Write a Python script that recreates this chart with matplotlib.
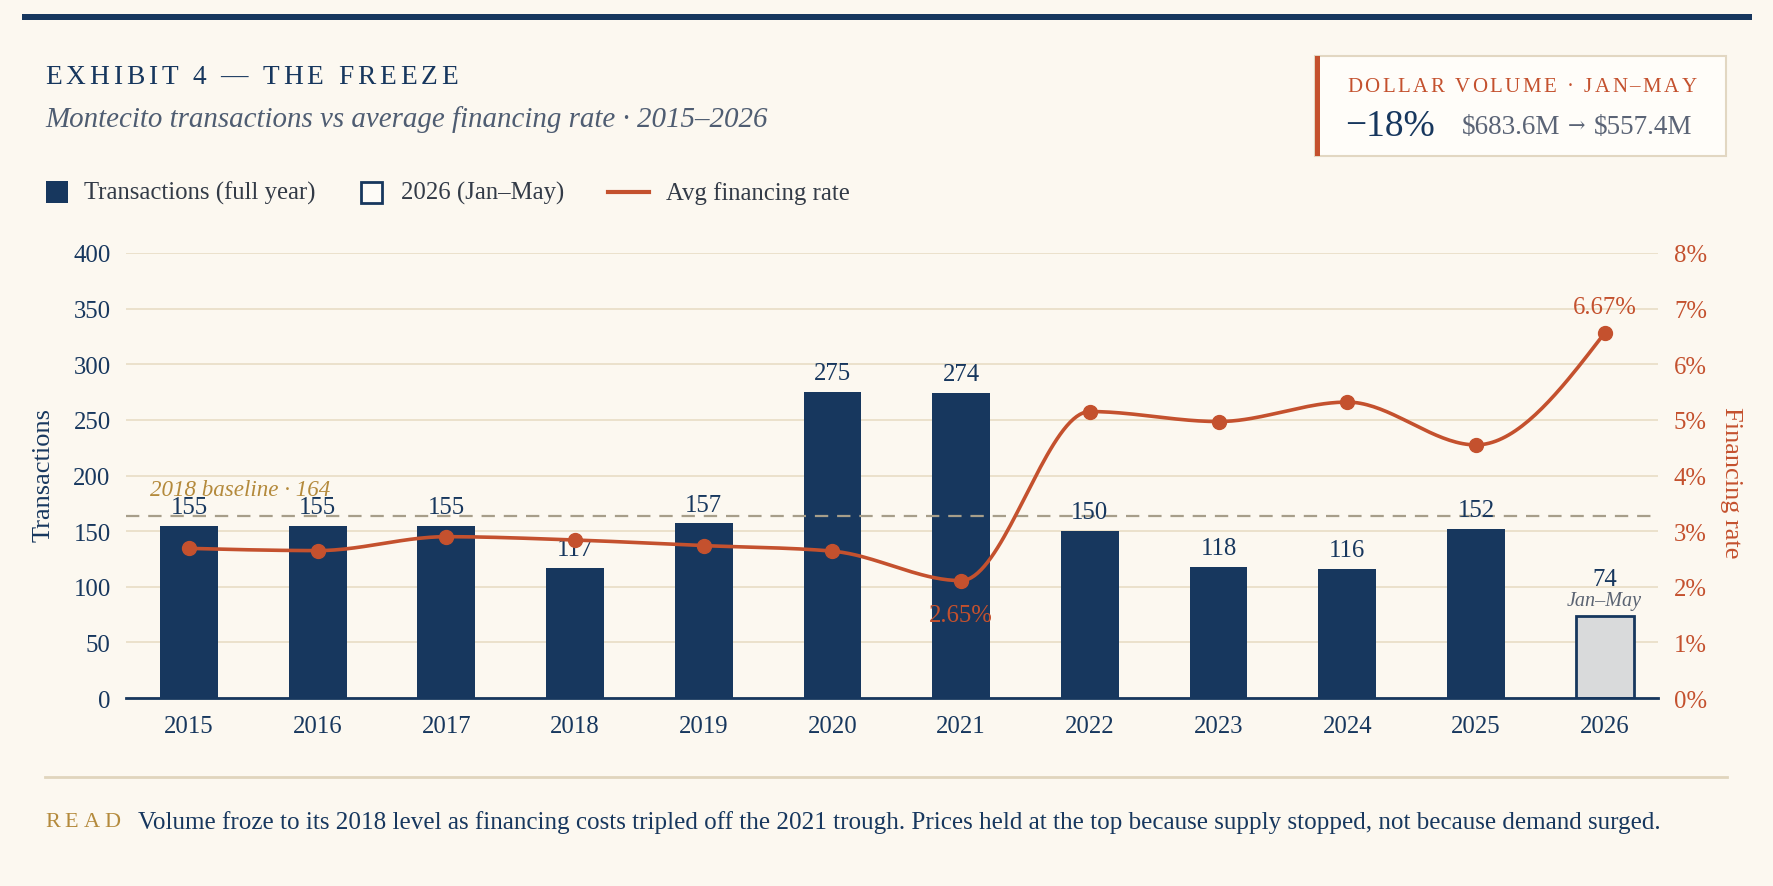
import matplotlib
matplotlib.use("Agg")
import numpy as np
import matplotlib.pyplot as plt
from matplotlib.patches import Rectangle
from matplotlib.font_manager import FontProperties

# data
years = ["2015", "2016", "2017", "2018", "2019", "2020", "2021", "2022", "2023", "2024", "2025", "2026"]
transactions = [155, 155, 155, 117, 157, 275, 274, 150, 118, 116, 152, 74]
rates = [2.69, 2.65, 2.90, 2.84, 2.74, 2.64, 2.11, 5.15, 4.97, 5.32, 4.55, 6.56]
rate_notes = {6: "2.65%", 11: "6.67%"}
baseline = 164
y_ticks = [0, 50, 100, 150, 200, 250, 300, 350, 400]
rate_ticks = [0, 1, 2, 3, 4, 5, 6, 7, 8]

BG = "#fcf8f0"
NAVY = "#17375e"
ORANGE = "#c4512e"
GOLD = "#b48a3c"
GRID = "#eadfc9"
SLATE = "#4f5d72"
SERIF = "Liberation Serif"
FS = 17.8

W, H = 1774, 887
plt.rcParams["font.family"] = [SERIF, "DejaVu Serif"]

fig = plt.figure(figsize=(W / 100, H / 100), dpi=100, facecolor=BG)

# main axes
ax = fig.add_axes([126 / W, 1 - 699 / H, (1658 - 126) / W, (699 - 254) / H])
ax.set_facecolor("none")
x = np.arange(len(years))
colors = [NAVY] * (len(years) - 1) + ["#d9dadb"]
ax.bar(x, transactions, width=0.45, color=colors, edgecolor=NAVY,
       linewidth=[0] * (len(years) - 1) + [2], zorder=2)
ax.set_xlim(-0.49, len(years) - 0.585)
ax.set_ylim(0, 400)
ax.set_yticks(y_ticks)
ax.set_xticks(x, years)
ax.grid(axis="y", color=GRID, linewidth=1.3, zorder=0)
ax.set_axisbelow(True)
for s in ["top", "right", "left"]:
    ax.spines[s].set_visible(False)
ax.spines["bottom"].set_color(NAVY)
ax.spines["bottom"].set_linewidth(2)
ax.tick_params(axis="both", length=0, labelsize=FS, labelcolor=NAVY)
ax.tick_params(axis="x", pad=12.5)
ax.tick_params(axis="y", pad=11)

for i, v in enumerate(transactions):
    if i == len(years) - 1:
        ax.annotate(str(v), (i, v), xytext=(0, 26.5), textcoords="offset points",
                    ha="center", va="center", fontsize=FS, color=NAVY)
        ax.annotate("Jan\u2013May", (i, v), xytext=(0, 11), textcoords="offset points",
                    ha="center", va="center", fontsize=14.5, color="#5b6473", style="italic")
    else:
        ax.annotate(str(v), (i, v), xytext=(0, 13.5), textcoords="offset points",
                    ha="center", va="center", fontsize=FS, color=NAVY, zorder=4)

# baseline
ax.axhline(baseline, color="#a79e8a", linewidth=1.6, dashes=(6, 4), zorder=3)
ax.annotate("2018 baseline \u00b7 %d" % baseline, (0.0157, baseline), xycoords=("axes fraction", "data"),
            xytext=(0, 19), textcoords="offset points", ha="left", va="center",
            fontsize=16.6, color=GOLD, style="italic", zorder=3)

# financing rate, smoothed monotone curve through the points
ax2 = ax.twinx()
ax2.set_ylim(0, 8)
ax2.set_yticks(rate_ticks, ["%d%%" % t for t in rate_ticks])
for s in ["top", "right", "left", "bottom"]:
    ax2.spines[s].set_visible(False)
ax2.tick_params(axis="y", length=0, labelsize=FS, labelcolor=ORANGE, pad=11.5)


def monotone_curve(xs, ys, n=40):
    xs = np.asarray(xs, float)
    ys = np.asarray(ys, float)
    h = np.diff(xs)
    d = np.diff(ys) / h
    m = np.zeros_like(ys)
    for i in range(1, len(ys) - 1):
        if d[i - 1] * d[i] <= 0:
            m[i] = 0
        else:
            p = (d[i - 1] * h[i] + d[i] * h[i - 1]) / (h[i - 1] + h[i])
            m[i] = (np.sign(d[i - 1]) + np.sign(d[i])) * min(abs(d[i - 1]), abs(d[i]), 0.5 * abs(p))
    m[0] = (3 * d[0] - m[1]) / 2 if d[0] * (3 * d[0] - m[1]) > 0 else 0
    m[-1] = (3 * d[-1] - m[-2]) / 2 if d[-1] * (3 * d[-1] - m[-2]) > 0 else 0
    px, py = [], []
    for i in range(len(h)):
        t = np.linspace(0, 1, n)
        h00 = 2 * t**3 - 3 * t**2 + 1
        h10 = t**3 - 2 * t**2 + t
        h01 = -2 * t**3 + 3 * t**2
        h11 = t**3 - t**2
        px.extend(xs[i] + t * h[i])
        py.extend(h00 * ys[i] + h10 * h[i] * m[i] + h01 * ys[i + 1] + h11 * h[i] * m[i + 1])
    return px, py


cx, cy = monotone_curve(x, rates)
ax2.plot(cx, cy, color=ORANGE, linewidth=2.6, solid_capstyle="round", zorder=5)
ax2.plot(x, rates, "o", color=ORANGE, markersize=10, zorder=6)
for i, lab in rate_notes.items():
    off = -25 if rates[i] < rates[i - 1] else 19
    ax2.annotate(lab, (i, rates[i]), xytext=(0, off), textcoords="offset points",
                 ha="center", va="center", fontsize=FS, color=ORANGE, zorder=7)

# overlay in pixel coords for header, legend, callout and footer
ov = fig.add_axes([0, 0, 1, 1])
ov.set_xlim(0, W)
ov.set_ylim(H, 0)
ov.axis("off")
ov.patch.set_visible(False)

renderer = fig.canvas.get_renderer()


def text_w(s, fp):
    w, _, _ = renderer.get_text_width_height_descent(s, fp, ismath=False)
    return w


def spaced(x0, y0, s, track, size, color, style="normal"):
    fp = FontProperties(family=SERIF, size=size, style=style)
    ref = text_w("I", fp)
    for i, ch in enumerate(s):
        if ch == " ":
            continue
        off = text_w(s[:i] + "I", fp) - ref if i > 0 else 0
        ov.text(x0 + off + i * track, y0, ch, fontproperties=fp, color=color,
                ha="left", va="center")


ov.add_patch(Rectangle((22, 15), 1730, 6, color=NAVY, lw=0))
spaced(45, 77, "EXHIBIT 4 \u2014 THE FREEZE", 3.9, 19.7, NAVY)
ov.text(45, 119.5, "Montecito transactions vs average financing rate \u00b7 2015\u20132026",
        fontsize=20.9, style="italic", color=SLATE, ha="left", va="center")

# legend
ov.add_patch(Rectangle((46, 182), 22, 22, facecolor=NAVY, edgecolor=NAVY, lw=0))
ov.text(84, 193.5, "Transactions (full year)", fontsize=FS, color="#333b47", ha="left", va="center")
ov.add_patch(Rectangle((361, 183), 21, 21, facecolor="#fdfbf7", edgecolor=NAVY, lw=2))
ov.text(401, 193.5, "2026 (Jan\u2013May)", fontsize=FS, color="#333b47", ha="left", va="center")
ov.plot([608, 649], [193, 193], color=ORANGE, linewidth=3)
ov.text(666, 193.5, "Avg financing rate", fontsize=FS, color="#333b47", ha="left", va="center")

# callout box
ov.add_patch(Rectangle((1315, 57), 411, 100, facecolor="#fffdf9", edgecolor="#e2d7c2", lw=1.5))
ov.add_patch(Rectangle((1315, 57), 5, 100, facecolor=ORANGE, lw=0))
spaced(1347, 87, "DOLLAR VOLUME \u00b7 JAN\u2013MAY", 2.5, 15, ORANGE)
ov.text(1345, 126.5, "\u221218%", fontsize=27, color=NAVY, ha="left", va="center")
ov.text(1462, 128, "$683.6M", fontsize=19.5, color="#5b6476",
        ha="left", va="center", parse_math=False)
ov.text(1577, 126, "\u2192", fontsize=15, color="#5b6476", ha="center", va="center",
        family=["DejaVu Serif"])
ov.text(1594, 128, "$557.4M", fontsize=19.5, color="#5b6476",
        ha="left", va="center", parse_math=False)

# footer
ov.plot([45, 1727], [778, 778], color="#e0d5bd", linewidth=2)
spaced(45, 823, "READ", 5, 16, GOLD)
ov.text(138, 823, "Volume froze to its 2018 level as financing costs tripled off the 2021 trough. "
        "Prices held at the top because supply stopped, not because demand surged.",
        fontsize=18.1, color=NAVY, ha="left", va="center")

# axis titles
ov.text(44, 475, "Transactions", fontsize=19, color=NAVY, rotation=90, ha="center", va="center")
ov.text(1731, 483, "Financing rate", fontsize=19, color=ORANGE, rotation=-90, ha="center", va="center")

fig.savefig("out.png", dpi=100, facecolor=BG)
